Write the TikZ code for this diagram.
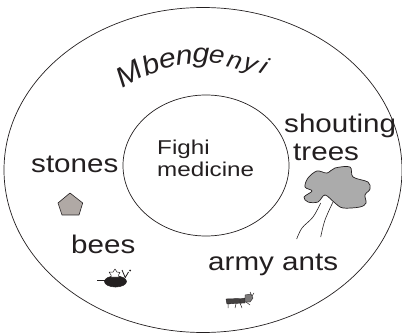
\documentclass[tikz,border=0pt]{standalone}
\usepackage{fontspec}
\setmainfont{Liberation Sans}
\definecolor{ink}{HTML}{231F20}
\definecolor{stonegray}{HTML}{B0A9A5}
\definecolor{treegray}{HTML}{ABABAB}
\tikzset{
 ring/.style={draw=ink,line width=0.7pt},
 lbl/.style={inner sep=0pt,anchor=base west,text=ink,font=\fontsize{25.5}{30}\selectfont,xscale=1.16},
 smalllbl/.style={inner sep=0pt,anchor=base west,text=ink,font=\fontsize{20}{27}\selectfont,xscale=1.21},
 curved/.style={inner sep=0pt,anchor=base,text=ink,font=\fontsize{#1}{30}\selectfont\itshape,xscale=1.12},
 shp/.style={draw=ink,line width=0.6pt,line join=round},
}
\begin{document}
\begin{tikzpicture}[x=1pt,y=-1pt]
\useasboundingbox (0,0) rectangle (402,334);
\draw[ring] (203,170) ellipse [x radius=199,y radius=162.5];
\draw[ring] (206,165.5) ellipse [x radius=83,y radius=70.5];
% curved title
\node[rotate=30,curved=28] (t1) at (134,82) {M};
\node[rotate=22,curved=27] (t2) at (154,73) {b};
\node[rotate=14,curved=27] (t3) at (170,67) {e};
\node[rotate=6,curved=27] (t4) at (185,65) {n};
\node[rotate=0,curved=27] (t5) at (201,63) {g};
\node[rotate=-6,curved=25] (t6) at (216,63) {e};
\node[rotate=-14,curved=24] (t7) at (233,68) {n};
\node[rotate=-20,curved=24] (t8) at (248,71) {y};
\node[rotate=-24,curved=24] (t9) at (261,74) {i};
\node[smalllbl] (fighi) at (157,155) {Fighi};
\node[smalllbl] (med) at (157,177) {medicine};
\node[lbl] (stones) at (31,173) {stones};
\node[lbl] (bees) at (71,253) {bees};
\node[lbl] (army) at (208,270) {army ants};
\node[lbl] (shout) at (284,133) {shouting};
\node[lbl] (trees) at (293,161) {trees};
% stone
\draw[shp,fill=stonegray] (70,193) -- (82.7,203) -- (79,215) -- (62,215) -- (58,203) -- cycle;
% bee
\draw[shp,fill=ink] (115.5,281.5) ellipse [x radius=11,y radius=5.5];
\draw[shp,line width=0.5pt] (97,280) -- (105,280);
\draw[shp,fill=white,line width=0.5pt] (109,272) -- (113,272) -- (115,269) -- (117,272) -- (120,272.5) -- (118.5,275) -- (119,277) -- (111,277) -- (111,275) -- cycle;
\draw[shp,line width=0.8pt] (122,270) -- (125,277) (128.5,272) -- (125,278);
\fill[ink] (130,270.5) circle [radius=1];
% tree
\draw[shp,fill=treegray,line width=0.7pt] plot[smooth cycle,tension=0.55] coordinates {(305,187) (308,178) (317,171) (327,173) (335,168) (350,167) (353,177) (368,182) (370,189) (365,195) (366,203) (360,207) (343,208) (335,203) (325,195) (318,202) (308,202) (304,197) (312,191)};
\draw[ring,line width=0.6pt] plot[smooth,tension=0.6] coordinates {(320.7,203) (313,217) (302,228) (296.7,239)};
\draw[ring,line width=0.6pt] plot[smooth,tension=0.6] coordinates {(333,202) (325,220) (320.7,237)};
% ant
\draw[shp,fill=ink!85,line width=0.4pt] (226,299) -- (240,298.5) -- (242,303) -- (227,304) -- cycle;
\draw[shp,fill=ink!85,line width=0.4pt] (240,299) -- (245,298) -- (245,303) -- (240,303) -- cycle;
\draw[shp,fill=ink!60,line width=0.4pt] (245,295) -- (251,294) -- (253,298) -- (250,302) -- (245,302) -- cycle;
\draw[shp,line width=0.5pt] (228,304) -- (228,308) (236,304) -- (235,308) (240,303) -- (242,308) (246,302) -- (250,305) (251,294) -- (250,292) (252,296) -- (254,293);
\end{tikzpicture}
\end{document}
